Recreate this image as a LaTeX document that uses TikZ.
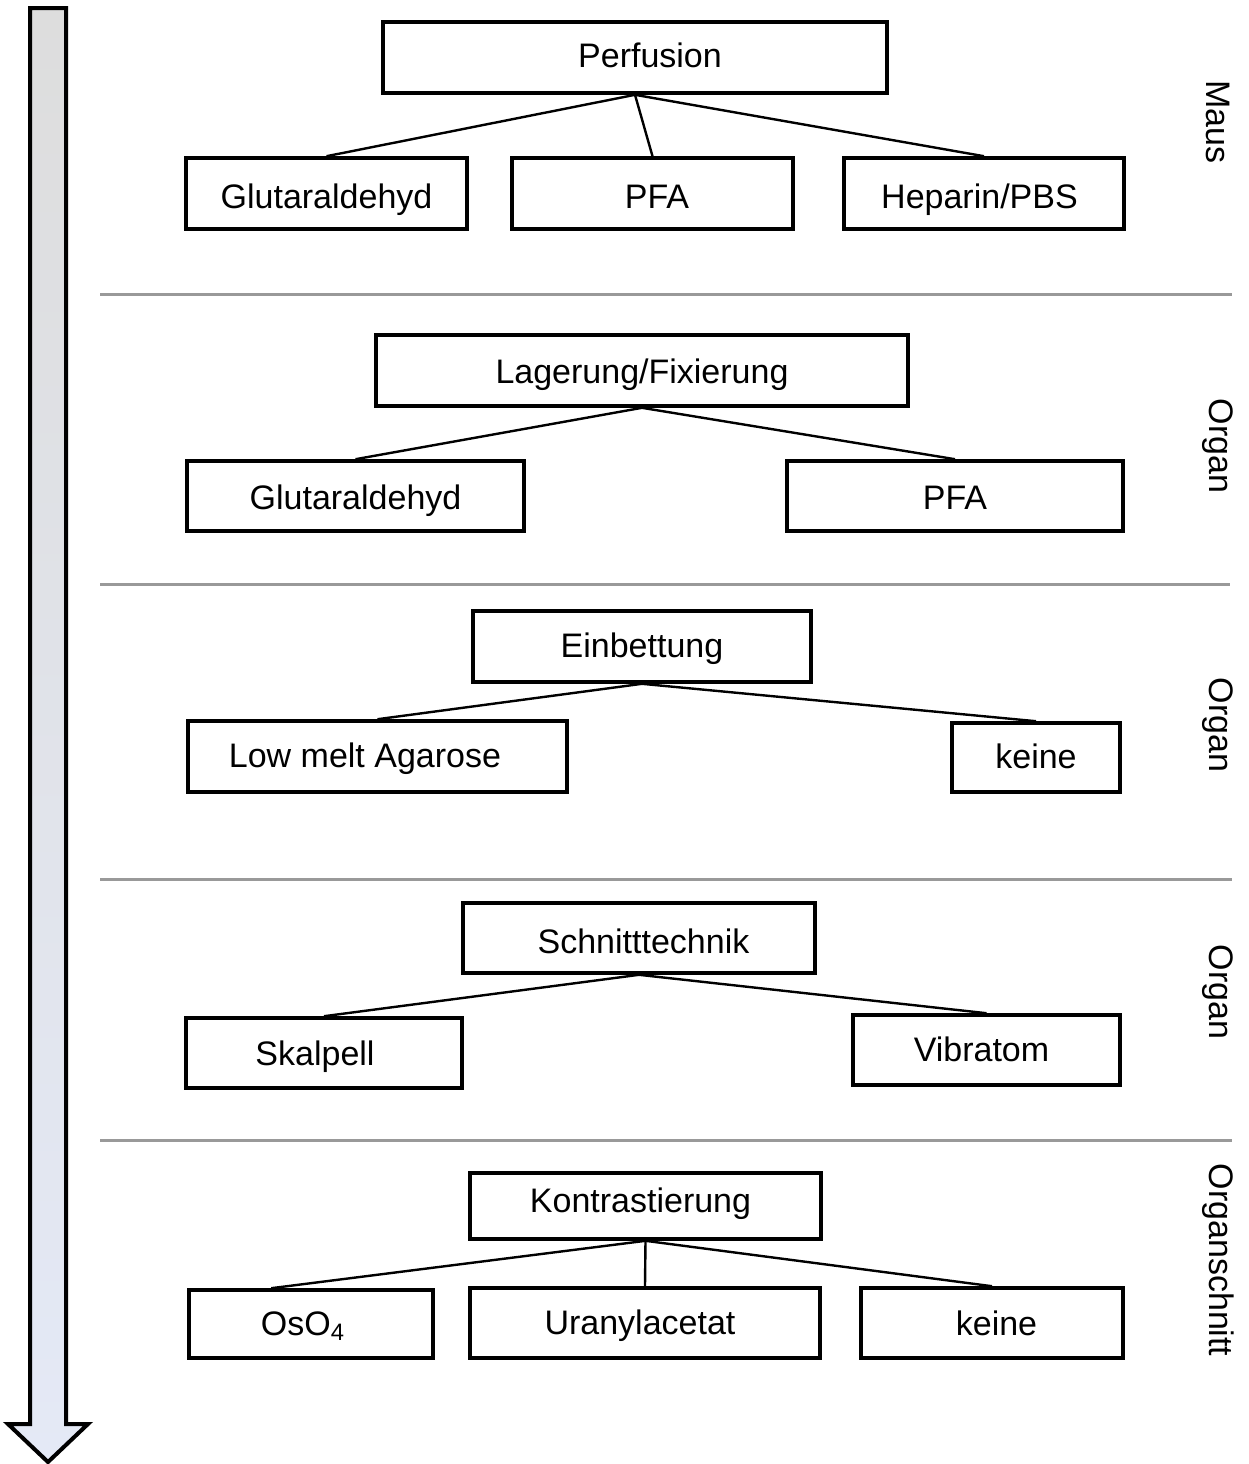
\documentclass[tikz,border=0pt]{standalone}
\usepackage{xcolor}
\usepackage{fontspec}
\setmainfont{Liberation Sans}
\definecolor{arrtop}{HTML}{DDDDDD}
\definecolor{arrmid}{HTML}{CCDAF2}
\definecolor{arrbot}{HTML}{E4E9F6}
\definecolor{sepgray}{HTML}{999999}

\begin{document}
\begin{tikzpicture}[
        x=0.5pt, y=-0.5pt,
        box/.style={draw, rectangle, line width=1.8pt, inner sep=0pt, minimum height=35.5pt,
            text height=14.6pt, text depth=3.6pt, font=\fontsize{17}{20}\selectfont},
        link/.style={line width=1.2pt},
        sep/.style={draw=sepgray, line width=1.5pt},
        side/.style={rotate=-90, inner sep=0pt, font=\fontsize{17}{20}\selectfont},
    ]
        \useasboundingbox (0,0) rectangle (1249,1464);
        % Zeitachse
        \shadedraw[top color=arrtop, middle color=arrmid, bottom color=arrbot, line width=2pt, line join=miter]
            (30,8) -- (66,8) -- (66,1424) -- (88,1424) -- (48,1462) -- (8,1424) -- (30,1424) -- cycle;
        % Trennlinien
        \draw[sep] (100,294) -- (1232,294);
        \draw[sep] (100,584) -- (1230,584);
        \draw[sep] (100,879) -- (1232,879);
        \draw[sep] (100,1140) -- (1232,1140);
        % Ebenen rechts
        \node[side] (s1) at (1218,122) {Maus};
        \node[side] (s2) at (1218,446) {Organ};
        \node[side] (s3) at (1218,725) {Organ};
        \node[side] (s4) at (1218,992) {Organ};
        \node[side] (s5) at (1218,1260) {Organschnitt};
        % Perfusion
        \node[box, minimum width=252pt, text height=13.1pt] (perf) at (635,57.5) {\hspace*{15pt}Perfusion};
        \node[box, minimum width=140.5pt, text height=18.6pt] (perfglut) at (326.5,193.5) {Glutaraldehyd};
        \node[box, minimum width=140.5pt, text height=18.6pt] (perfpfa) at (652.5,193.5) {\hspace*{4.5pt}PFA};
        \node[box, minimum width=140pt, text height=18.6pt] (perfhep) at (984,193.5) {Heparin/PBS\hspace*{4.5pt}};
        \draw[link] (perf.south) -- (perfglut.north);
        \draw[link] (perf.south) -- (perfpfa.north);
        \draw[link] (perf.south) -- (perfhep.north);
        % Lagerung/Fixierung
        \node[box, minimum width=266pt, text height=16.1pt] (lag) at (642,370.5) {Lagerung/Fixierung};
        \node[box, minimum width=168.5pt, minimum height=35pt, text height=16.6pt] (lagglut) at (355.5,496) {Glutaraldehyd};
        \node[box, minimum width=168pt, minimum height=35pt, text height=16.6pt] (lagpfa) at (955,496) {PFA};
        \draw[link] (lag.south) -- (lagglut.north);
        \draw[link] (lag.south) -- (lagpfa.north);
        % Einbettung
        \node[box, minimum width=169pt, text height=14.1pt] (einb) at (642,646.5) {Einbettung};
        \node[box, minimum width=189.5pt, text height=14.1pt] (einbaga) at (377.5,756.5) {Low melt Agarose\hspace*{12.5pt}};
        \node[box, minimum width=84pt, minimum height=34.5pt, text height=14.1pt] (einbkeine) at (1036,757.5) {keine};
        \draw[link] (einb.south) -- (einbaga.north);
        \draw[link] (einb.south) -- (einbkeine.north);
        % Schnitttechnik
        \node[box, minimum width=176pt, minimum height=35pt, text height=18.6pt] (schn) at (639,938) {\hspace*{4.5pt}Schnitttechnik};
        \node[box, minimum width=138pt, minimum height=35pt, text height=15.6pt] (schnskal) at (324,1053) {Skalpell\hspace*{9pt}};
        \node[box, minimum width=133.5pt, minimum height=35pt] (schnvib) at (986.5,1050) {Vibratom\hspace*{5pt}};
        \draw[link] (schn.south) -- (schnskal.north);
        \draw[link] (schn.south) -- (schnvib.north);
        % Kontrastierung
        \node[box, minimum width=175.5pt, minimum height=33pt, text height=9.6pt] (kon) at (645.5,1206) {Kontrastierung\hspace*{5pt}};
        \node[box, minimum width=122pt, minimum height=34pt] (konos) at (311,1324) {OsO\textsubscript{4}\hspace*{8pt}};
        \node[box, minimum width=175pt, minimum height=35pt] (konur) at (645,1323) {Uranylacetat\hspace*{5pt}};
        \node[box, minimum width=131pt, minimum height=35pt, text height=15.6pt] (konkeine) at (992,1323) {\hspace*{4.5pt}keine};
        \draw[link] (kon.south) -- ([xshift=42pt]konos.north west);
        \draw[link] (kon.south) -- (konur.north);
        \draw[link] (kon.south) -- (konkeine.north);
    \end{tikzpicture}
\end{document}
